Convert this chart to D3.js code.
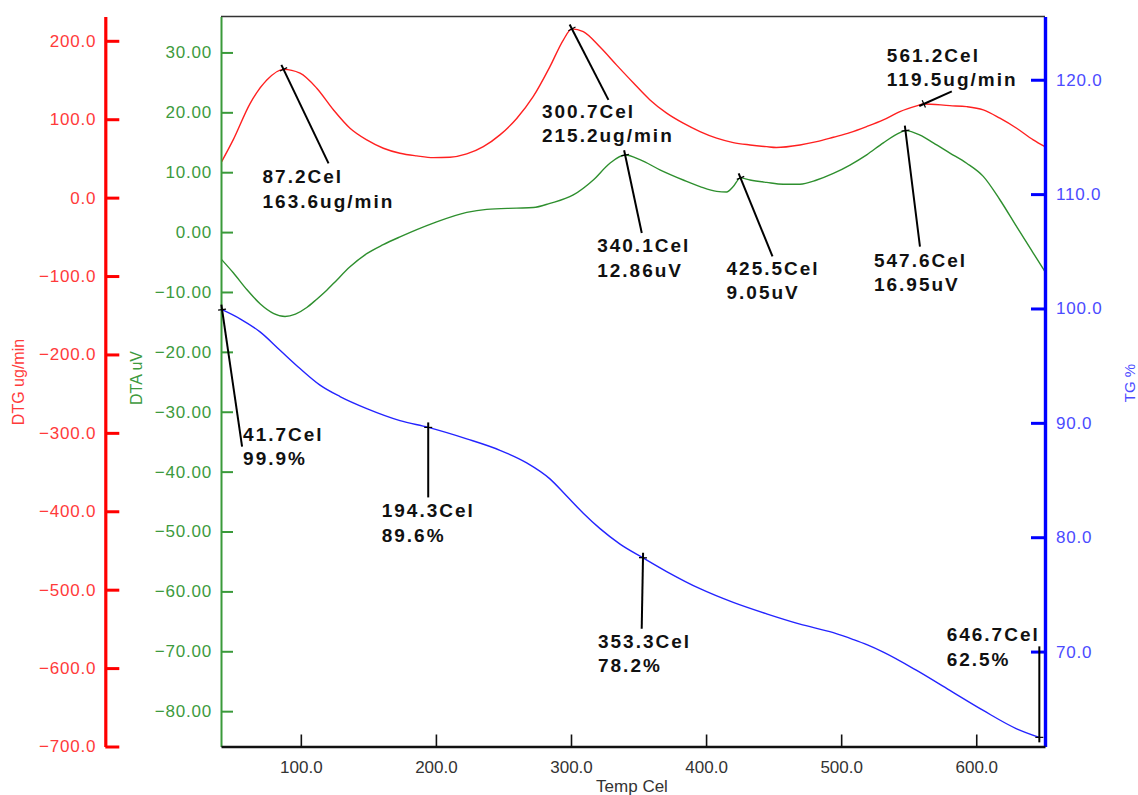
<!DOCTYPE html>
<html>
<head>
<meta charset="utf-8">
<script src="https://cdn.jsdelivr.net/npm/d3@7"></script>
<style>
  html, body { margin: 0; padding: 0; background: #ffffff; }
  svg { display: block; font-family: "Liberation Sans", Arial, sans-serif; }
</style>
</head>
<body>
<svg id="chart" width="1138" height="795"></svg>
<script>
// ---------------- DATA ----------------
const xTicks = [100, 200, 300, 400, 500, 600];
const dtgTicks = [200, 100, 0, -100, -200, -300, -400, -500, -600, -700];
const dtaTicks = [30, 20, 10, 0, -10, -20, -30, -40, -50, -60, -70, -80];
const tgTicks = [120, 110, 100, 90, 80, 70];

// DTG (ug/min) vs temperature (Cel)
const dtgTemp = [41.4, 50, 62.4, 74.8, 87.2, 99.4, 111.8, 124.1, 136.4, 148.8, 161.1, 173.4, 185.8, 198.1, 210.4, 222.8, 235.1, 247.4, 259.8, 272.1, 284.4, 294.3, 300.7, 309.1, 321.5, 333.8, 346.1, 358.5, 370.8, 383.1, 395.5, 407.8, 420.1, 432.5, 444.8, 452, 469.5, 481.9, 494.2, 506.5, 518.9, 531.2, 543.5, 555.9, 561.2, 580.5, 592.9, 605.2, 617.5, 629.9, 642.2, 650.9];
const dtgVal  = [46, 74, 120, 150, 163.6, 158.7, 139.5, 112, 88.5, 73.6, 63, 56.6, 53.2, 51, 51.5, 55.7, 65, 80, 101, 129, 167, 201, 215.2, 211.7, 192, 169, 146.5, 124.6, 107.7, 94.9, 84.2, 75.8, 70.2, 67.2, 65, 64, 67.2, 71.4, 77, 82.9, 90.6, 99.1, 109.7, 117, 119.5, 117.3, 116, 111.9, 101.3, 88.5, 73.6, 65];

// DTA (uV) vs temperature
const dtaTemp = [41.4, 50, 60, 70, 80, 88.3, 96, 104.4, 111.8, 119.2, 124.1, 136.4, 148.8, 161, 173.4, 198.1, 222.8, 237.6, 259.8, 272.1, 284.4, 301.7, 316.5, 328.8, 340.1, 351, 365.8, 383.1, 395.5, 407.8, 415.2, 420.1, 425.5, 432.5, 444.8, 457.1, 469.5, 481.9, 494.2, 506.5, 518.9, 531.2, 543.5, 547.6, 558.4, 568.2, 580.5, 592.9, 605.2, 617.5, 629.9, 642.2, 650.9];
const dtaVal  = [-4.6, -6.8, -9.6, -12.0, -13.6, -14.1, -13.7, -12.6, -11.2, -9.7, -8.6, -5.8, -3.6, -2.1, -0.8, 1.5, 3.3, 3.8, 4.0, 4.1, 4.8, 6.2, 8.7, 11.5, 12.86, 12.1, 10.4, 8.7, 7.6, 6.8, 6.7, 7.6, 9.05, 8.7, 8.3, 8.0, 8.0, 8.7, 9.8, 11.2, 12.9, 14.9, 16.6, 16.95, 16.2, 14.9, 13.2, 11.5, 9.3, 5.4, 0.9, -3.5, -6.6];

// TG (%) vs temperature
const tgTemp = [41.7, 55, 69.8, 84.6, 99.4, 114.2, 129, 148.8, 173.4, 194.3, 222.8, 247.4, 267.2, 284.4, 296.8, 309.1, 321.5, 336.3, 353.3, 370.8, 395.5, 420.1, 444.8, 469.5, 494.2, 509, 519, 531.2, 555.9, 580.5, 605.2, 629.9, 646.7];
const tgVal  = [99.9, 99.1, 97.95, 96.35, 94.75, 93.3, 92.3, 91.25, 90.2, 89.6, 88.6, 87.6, 86.5, 85.1, 83.6, 82.1, 80.75, 79.4, 78.2, 77.0, 75.5, 74.3, 73.3, 72.4, 71.65, 71.05, 70.6, 69.95, 68.35, 66.6, 64.85, 63.25, 62.5];

// Annotations (peak / point readouts)
const annSeries = ["DTG", "DTG", "DTA", "DTA", "DTA", "DTG", "TG", "TG", "TG", "TG"];
const annTemp   = [87.2, 300.7, 340.1, 425.5, 547.6, 561.2, 41.7, 194.3, 353.3, 646.7];
const annValue  = [163.6, 215.2, 12.86, 9.05, 16.95, 119.5, 99.9, 89.6, 78.2, 62.5];
const annUnit   = ["ug/min", "ug/min", "uV", "uV", "uV", "ug/min", "%", "%", "%", "%"];

// ---------------- LAYOUT ----------------
const plot = { left: 221, right: 1045, top: 16.5, bottom: 746.5 };
// offsets (px) of leader-line end and text origin relative to the annotated point
const annLayout = [
  { ex: 45, ey: 94, tx: -21, ty: 114 },
  { ex: 36.5, ey: 71, tx: -30, ty: 89 },
  { ex: 16.6, ey: 78, tx: -28, ty: 97 },
  { ex: 32, ey: 78.6, tx: -14, ty: 97 },
  { ex: 14.5, ey: 116, tx: -31.5, ty: 136 },
  { ex: 28, ey: -12.5, tx: -37, ty: -42.3 },
  { ex: 20, ey: 137, tx: 21, ty: 131 },
  { ex: 0, ey: 70, tx: -46.5, ty: 90 },
  { ex: -1.3, ey: 71, tx: -45, ty: 90 },
  { ex: 0, ey: -91, tx: -92.7, ty: -96.3 }
];

const svg = d3.select("#chart");
svg.append("rect").attr("width", 1138).attr("height", 795).attr("fill", "#fff");

const x = d3.scaleLinear().domain([40.9, 650.9]).range([plot.left, plot.right]);
const yDTG = d3.scaleLinear().domain([-700, 231]).range([plot.bottom, plot.top]);
const yDTA = d3.scaleLinear().domain([-85.9, 36.0]).range([plot.bottom, plot.top]);
const yTG  = d3.scaleLinear().domain([61.7, 125.53]).range([plot.bottom, plot.top]);
const yOf = { DTG: yDTG, DTA: yDTA, TG: yTG };

// top border
svg.append("line").attr("x1", plot.left).attr("x2", plot.right)
  .attr("y1", plot.top).attr("y2", plot.top)
  .attr("stroke", "#333").attr("stroke-width", 1.5);

// ---- curves ----
function drawCurve(temps, vals, yS, color) {
  const pts = temps.map((t, i) => [t, vals[i]]);
  const line = d3.line().x(d => x(d[0])).y(d => yS(d[1])).curve(d3.curveMonotoneX);
  svg.append("path").datum(pts).attr("d", line)
    .attr("fill", "none").attr("stroke", color).attr("stroke-width", 1.4);
}
drawCurve(dtgTemp, dtgVal, yDTG, "#ff2020");
drawCurve(dtaTemp, dtaVal, yDTA, "#2e8f2e");
drawCurve(tgTemp, tgVal, yTG, "#2424ff");

// ---- axes ----
function styleAxis(g, color, lineW, tickW, fontColor, fontSize, ls) {
  g.select(".domain").attr("stroke", color).attr("stroke-width", lineW);
  g.selectAll(".tick line").attr("stroke", color).attr("stroke-width", tickW);
  g.selectAll(".tick text").attr("fill", fontColor)
    .style("font-size", fontSize + "px").style("letter-spacing", ls + "px")
    .style("font-family", '"Liberation Sans", Arial, sans-serif');
}

// DTG axis (red, far left)
const gDTG = svg.append("g").attr("transform", "translate(105.3,0)")
  .call(d3.axisLeft(yDTG).tickValues(dtgTicks).tickFormat(d3.format(".1f")).tickSize(-14).tickSizeOuter(0).tickPadding(9));
styleAxis(gDTG, "#ff0000", 3.2, 3, "#ff3a3a", 17, 0.8);

// DTA axis (green)
const gDTA = svg.append("g").attr("transform", `translate(${plot.left},0)`)
  .call(d3.axisLeft(yDTA).tickValues(dtaTicks).tickFormat(d3.format(".2f")).tickSize(-12).tickSizeOuter(0).tickPadding(9));
styleAxis(gDTA, "#3a9a3a", 2, 2, "#3d9a3d", 17, 0.8);

// TG axis (blue, right)
const gTG = svg.append("g").attr("transform", `translate(${plot.right},0)`)
  .call(d3.axisRight(yTG).tickValues(tgTicks).tickFormat(d3.format(".1f")).tickSize(-14).tickSizeOuter(0).tickPadding(11));
styleAxis(gTG, "#0000ff", 3.4, 3, "#4b4bff", 17, 0.8);

// Temperature axis (bottom)
const gX = svg.append("g").attr("transform", `translate(0,${plot.bottom})`)
  .call(d3.axisBottom(x).tickValues(xTicks).tickFormat(d3.format(".1f")).tickSize(-12).tickSizeOuter(0).tickPadding(14));
styleAxis(gX, "#111", 2.6, 1.6, "#333", 17, 0);

// axis titles
svg.append("text").attr("transform", "translate(24,382) rotate(-90)")
  .attr("text-anchor", "middle").attr("fill", "#ff3a3a").style("font-size", "16px").text("DTG ug/min");
svg.append("text").attr("transform", "translate(142,378) rotate(-90)")
  .attr("text-anchor", "middle").attr("fill", "#3d9a3d").style("font-size", "16px").text("DTA uV");
svg.append("text").attr("transform", "translate(1135,383) rotate(-90)")
  .attr("text-anchor", "middle").attr("fill", "#4b4bff").style("font-size", "15px").text("TG %");
svg.append("text").attr("x", 632).attr("y", 792)
  .attr("text-anchor", "middle").attr("fill", "#333").style("font-size", "17px").text("Temp Cel");

// ---- annotations ----
const annG = svg.append("g");
annTemp.forEach((t, i) => {
  const ax = x(t), ay = yOf[annSeries[i]](annValue[i]);
  const L = annLayout[i];
  const len = Math.hypot(L.ex, L.ey);
  const ux = L.ex / len, uy = L.ey / len;
  annG.append("line")
    .attr("x1", ax - ux * 5).attr("y1", ay - uy * 5)
    .attr("x2", ax + L.ex).attr("y2", ay + L.ey)
    .attr("stroke", "#000").attr("stroke-width", 2);
  annG.append("line")
    .attr("x1", ax - uy * 4).attr("y1", ay + ux * 4)
    .attr("x2", ax + uy * 4).attr("y2", ay - ux * 4)
    .attr("stroke", "#000").attr("stroke-width", 1.2);
  const digits = annSeries[i] === "DTA" ? 2 : 1;
  const txt = annG.append("text")
    .attr("x", ax + L.tx).attr("y", ay + L.ty)
    .attr("fill", "#111")
    .style("font-size", "19px").style("font-weight", "bold").style("letter-spacing", "2px");
  txt.append("tspan").attr("x", ax + L.tx).text(t.toFixed(1) + "Cel");
  txt.append("tspan").attr("x", ax + L.tx).attr("dy", 24.5).text(annValue[i].toFixed(digits) + annUnit[i]);
});
</script>
</body>
</html>
